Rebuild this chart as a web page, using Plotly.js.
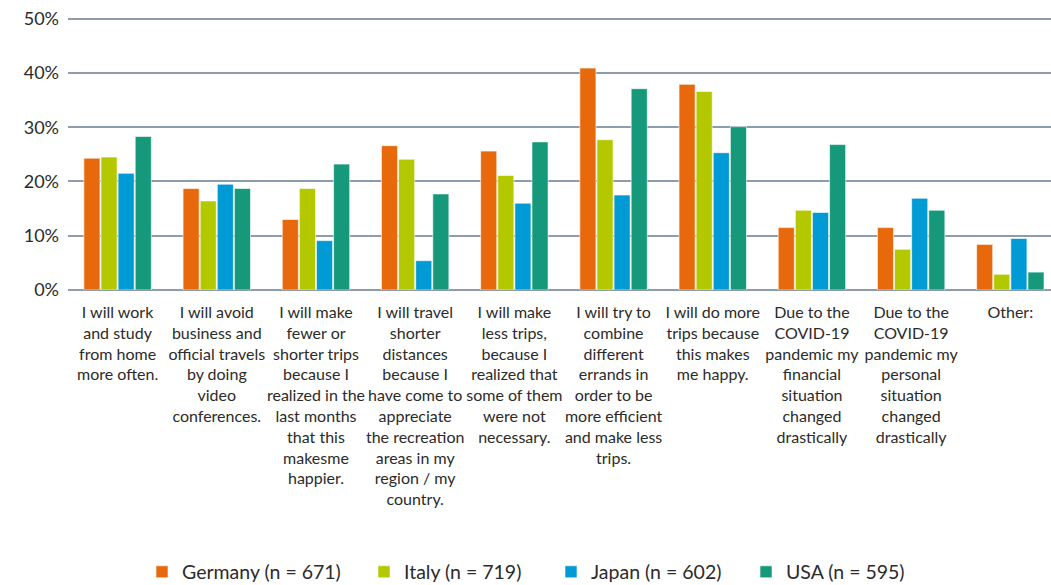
<!DOCTYPE html>
<html>
<head>
<meta charset="utf-8">
<script src="https://cdn.plot.ly/plotly-3.0.1.min.js"></script>
<style>html,body{margin:0;padding:0;background:#fff;}#chart{width:1051px;height:585px;}</style>
</head>
<body>
<div id="chart"></div>
<script>
const categories = [
  "I will work<br>and study<br>from home<br>more often.",
  "I will avoid<br>business and<br>official travels<br>by doing<br>video<br>conferences.",
  "I will make<br>fewer or<br>shorter trips<br>because I<br>realized in the<br>last months<br>that this<br>makesme<br>happier.",
  "I will travel<br>shorter<br>distances<br>because I<br>have come to<br>appreciate<br>the recreation<br>areas in my<br>region / my<br>country.",
  "I will make<br>less trips,<br>because I<br>realized that<br>some of them<br>were not<br>necessary.",
  "I will try to<br>combine<br>different<br>errands in<br>order to be<br>more efficient<br>and make less<br>trips.",
  "I will do more<br>trips because<br>this makes<br>me happy.",
  "Due to the<br>COVID-19<br>pandemic my<br>financial<br>situation<br>changed<br>drastically",
  "Due to the<br>COVID-19<br>pandemic my<br>personal<br>situation<br>changed<br>drastically",
  "Other:"
];
const seriesNames = ["Germany (n = 671)", "Italy (n = 719)", "Japan (n = 602)", "USA (n = 595)"];
const germany = [24.3, 18.7, 13.0, 26.6, 25.6, 40.9, 37.9, 11.5, 11.5, 8.4];
const italy   = [24.5, 16.4, 18.7, 24.1, 21.1, 27.7, 36.6, 14.7, 7.5, 2.9];
const japan   = [21.5, 19.5, 9.1, 5.4, 16.0, 17.5, 25.3, 14.3, 16.9, 9.5];
const usa     = [28.3, 18.7, 23.2, 17.7, 27.3, 37.1, 30.1, 26.8, 14.7, 3.3];
const yTickVals = [0, 10, 20, 30, 40, 50];
const yTickText = ["0%", "10%", "20%", "30%", "40%", "50%"];

const colors = ["#E8690C", "#B4C800", "#009AD4", "#16997A"];
const allSeries = [germany, italy, japan, usa];
const xIdx = categories.map((c, i) => i);
const legendIds = ["legend", "legend2", "legend3", "legend4"];
const legendLeftPx = [142, 364, 551, 746];

const traces = allSeries.map((vals, k) => ({
  type: "bar",
  name: seriesNames[k],
  x: xIdx,
  y: vals,
  legend: legendIds[k],
  marker: { color: colors[k], line: { color: "#ffffff", width: 0.6 } },
  hoverinfo: "skip"
}));

const legendFont = { size: 19.5, family: "Lato, 'Open Sans', sans-serif", color: "#2b2b2b" };

const layout = {
  width: 1051,
  height: 585,
  margin: { l: 68, r: 0, t: 16, b: 295 },
  paper_bgcolor: "#ffffff",
  plot_bgcolor: "#ffffff",
  barmode: "group",
  bargap: 0.31,
  bargroupgap: 0.06,
  font: { family: "Lato, 'Open Sans', sans-serif", color: "#2b2b2b" },
  xaxis: {
    tickmode: "array",
    tickvals: xIdx,
    ticktext: categories,
    range: [-0.5, 9.41],
    showgrid: false,
    zeroline: false,
    showline: false,
    ticks: "",
    tickangle: 0,
    ticklabelstandoff: 11,
    tickfont: { size: 16, family: "Lato, 'Open Sans', sans-serif", color: "#2b2b2b" },
    fixedrange: true
  },
  yaxis: {
    range: [0, 50.5],
    tickmode: "array",
    tickvals: yTickVals,
    ticktext: yTickText,
    showgrid: true,
    gridcolor: "#8E9DAE",
    gridwidth: 2,
    zeroline: true,
    zerolinecolor: "#8E9DAE",
    zerolinewidth: 2,
    showline: false,
    ticks: "",
    ticklabelstandoff: 8,
    tickfont: { size: 18, family: "Lato, 'Open Sans', sans-serif", color: "#2b2b2b" },
    fixedrange: true
  },
  showlegend: true
};

legendIds.forEach((id, k) => {
  layout[id] = {
    orientation: "h",
    xref: "container",
    yref: "container",
    x: legendLeftPx[k] / 1051,
    y: 0.022,
    xanchor: "left",
    yanchor: "middle",
    font: legendFont,
    itemwidth: 30,
    bgcolor: "rgba(0,0,0,0)"
  };
});

Plotly.newPlot("chart", traces, layout, { displayModeBar: false, staticPlot: true });
</script>
</body>
</html>
